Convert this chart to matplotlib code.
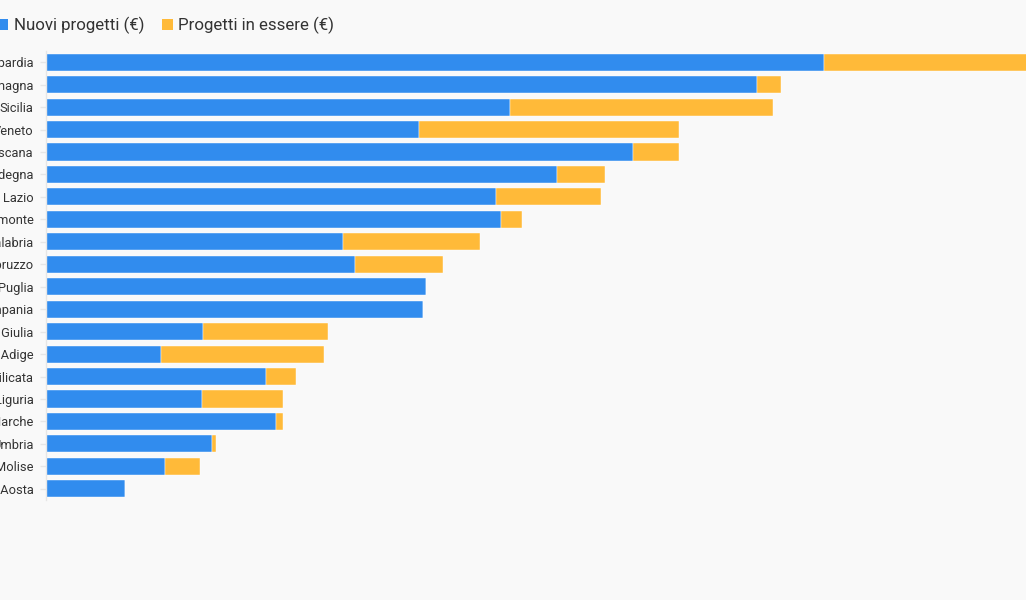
import matplotlib
matplotlib.use("Agg")
import matplotlib.pyplot as plt
from matplotlib.patches import Rectangle

regions = ["Lombardia", "Emilia-Romagna", "Sicilia", "Veneto", "Toscana", "Sardegna",
           "Lazio", "Piemonte", "Calabria", "Abruzzo", "Puglia", "Campania",
           "Friuli-Venezia Giulia", "Trentino-Alto Adige", "Basilicata", "Liguria",
           "Marche", "Umbria", "Molise", "Valle d'Aosta"]
nuovi = [778, 711, 464, 373, 587, 511, 450, 455, 297, 309, 380, 377,
         157, 115, 220, 156, 230, 166, 119, 79]
in_essere = [290, 24, 263, 260, 46, 48, 105, 21, 137, 88, 0, 0,
             125, 163, 30, 81, 7, 4, 35, 0]

BLUE = "#318CEE"
YELLOW = "#FFBA39"
BG = "#F9F9F9"
FONT = ["Roboto", "DejaVu Sans"]

W, H = 1026, 600
fig = plt.figure(figsize=(W / 100, H / 100), dpi=100, facecolor=BG)
ax = fig.add_axes([46 / W, 1 - 500 / H, 1 - 46 / W, (500 - 51) / H], facecolor=BG)

y = list(range(len(regions)))
ax.barh(y, nuovi, height=0.76, color=BLUE, edgecolor="#ffffff", linewidth=0.3)
ax.barh(y, in_essere, left=nuovi, height=0.76, color=YELLOW, edgecolor="#ffffff", linewidth=0.3)

ax.set_xlim(0, W - 46)
ax.set_ylim(len(regions) - 0.5, -0.5)
ax.set_yticks(y)
ax.set_yticklabels(regions, family=FONT, fontsize=9.3, color="#333333")
ax.tick_params(axis="y", length=4.5, width=1, color="#E6E6E6", pad=4.5)
ax.tick_params(axis="x", bottom=False, labelbottom=False)
for s in ["top", "right", "bottom"]:
    ax.spines[s].set_visible(False)
ax.spines["left"].set_color("#E6E6E6")
ax.spines["left"].set_linewidth(1)

# legend
def px(x, yy):
    return x / W, 1 - yy / H

sq = 11
for x0, col, label, tx in [(-3, BLUE, "Nuovi progetti (€)", 14),
                           (162, YELLOW, "Progetti in essere (€)", 178)]:
    fx, fy = px(x0, 30)
    fig.patches.append(Rectangle((fx, fy), sq / W, sq / H, transform=fig.transFigure,
                                 facecolor=col, edgecolor="none"))
    tx_, ty_ = px(tx, 25.5)
    fig.text(tx_, ty_, label, family=FONT, fontsize=12.2, color="#333333",
             ha="left", va="center")

fig.savefig("out.png", dpi=100, facecolor=BG)
